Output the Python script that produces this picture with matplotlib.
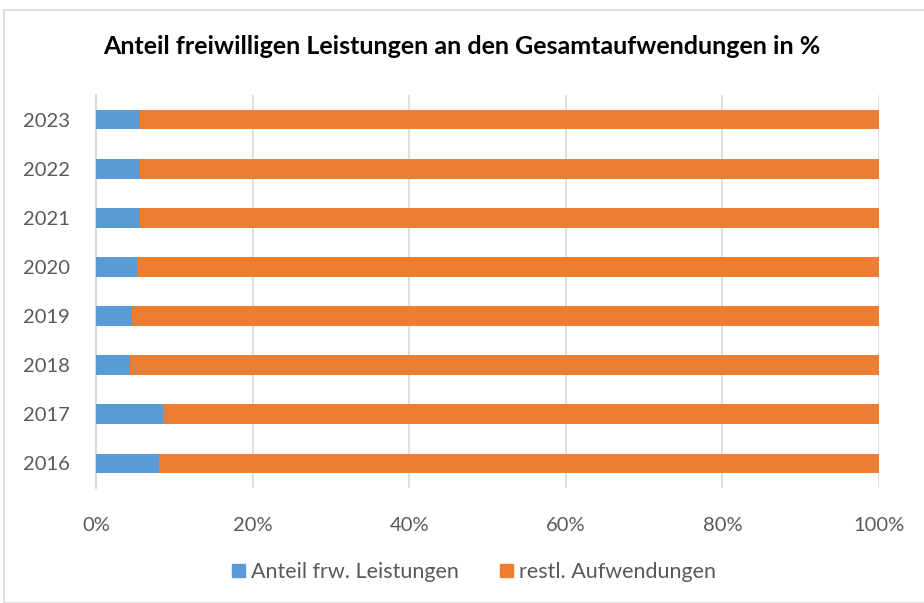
import matplotlib.pyplot as plt
from matplotlib.patches import Rectangle, Patch

# Data
years = ['2016', '2017', '2018', '2019', '2020', '2021', '2022', '2023']
anteil_frw = [8.08, 8.55, 4.30, 4.64, 5.19, 5.66, 5.66, 5.58]
restl = [100 - v for v in anteil_frw]

blue = '#5B9BD5'
orange = '#ED7D31'
grey_txt = '#595959'

plt.rcParams['font.family'] = ['Lato', 'DejaVu Sans']

fig = plt.figure(figsize=(9.24, 6.03), dpi=100)
ax = fig.add_axes([96 / 924, 1 - 488 / 603, 783 / 924, 393 / 603])

# outer chart frame
fig.patches.append(Rectangle((4 / 924, 0), 1.0, 1 - 10 / 603, transform=fig.transFigure,
                             fill=False, edgecolor='#d9d9d9', linewidth=1.2))

ax.barh(years, anteil_frw, height=0.4, color=blue, zorder=3)
ax.barh(years, restl, left=anteil_frw, height=0.4, color=orange, zorder=3)

ax.set_xlim(0, 100)
ax.set_ylim(-0.5, 7.5)
ax.set_xticks(range(0, 101, 20))
ax.set_xticklabels([f'{t}%' for t in range(0, 101, 20)])
ax.xaxis.grid(True, color='#d9d9d9', linewidth=1.2, zorder=0)
ax.tick_params(axis='both', length=0, labelsize=14.5, colors=grey_txt)
ax.tick_params(axis='x', pad=21)
ax.tick_params(axis='y', pad=19)
for s in ['top', 'right', 'bottom']:
    ax.spines[s].set_visible(False)
ax.spines['left'].set_color('#d9d9d9')
ax.spines['left'].set_linewidth(1.5)

fig.text(0.5, 1 - 47 / 603, 'Anteil freiwilligen Leistungen an den Gesamtaufwendungen in %',
         ha='center', va='center', fontsize=18, fontweight='bold', color='black')

handles = [Patch(color=blue, label='Anteil frw. Leistungen'),
           Patch(color=orange, label='restl. Aufwendungen')]
fig.legend(handles=handles, loc='center', bbox_to_anchor=(0.513, 1 - 572 / 603), ncol=2,
           frameon=False, fontsize=15.5, labelcolor=grey_txt, handlelength=0.6, handleheight=0.6,
           handletextpad=0.3, columnspacing=1.9)

fig.savefig('out.png', dpi=100)
